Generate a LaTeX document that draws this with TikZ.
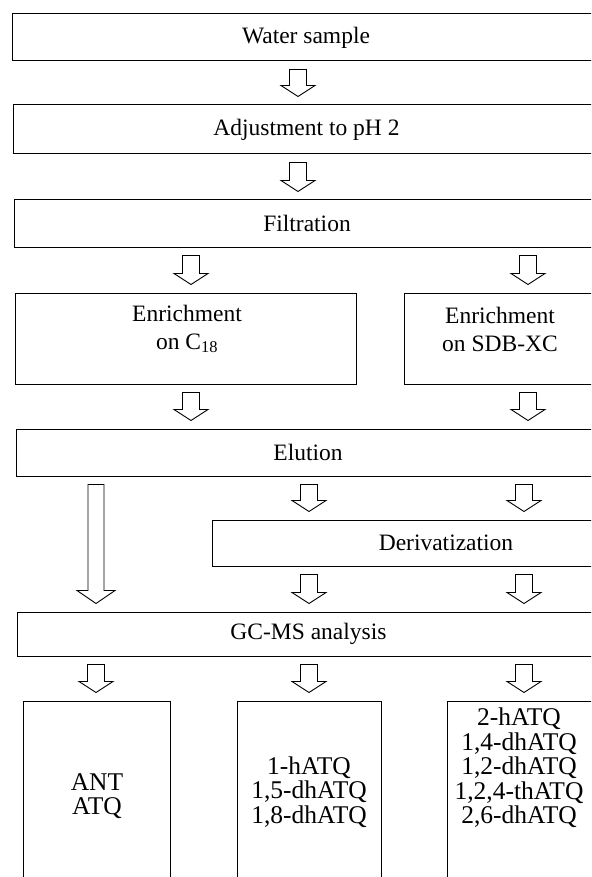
\documentclass[tikz,border=0pt]{standalone}
\usepackage{fontspec}
\setmainfont{Liberation Serif}
\usetikzlibrary{calc}
\tikzset{
  box/.style={draw, line width=1pt, inner sep=0pt, font=\fontsize{23.5}{28}\selectfont},
  txt/.style={inner sep=0pt, align=center, font=\fontsize{23.5}{28}\selectfont},
  restxt/.style={inner sep=0pt, align=center, font=\fontsize{25.5}{24.5}\selectfont},
  hollow/.style={draw, line width=0.9pt, to path={let \p1=(\tikztostart), \p2=(\tikztotarget) in
    (\x1-8.5pt,\y1-8pt) -- (\x1-8.5pt,\y2+19pt) -- (\x1-17pt,\y2+19pt) -- (\x1,\y2+8pt)
    -- (\x1+17pt,\y2+19pt) -- (\x1+8.5pt,\y2+19pt) -- (\x1+8.5pt,\y1-8pt) -- cycle}},
  longhollow/.style={draw, line width=0.9pt, to path={let \p1=(\tikztostart), \p2=(\tikztotarget) in
    (\x1-8pt,\y1-8pt) -- (\x1-8pt,\y2+21pt) -- (\x1-19pt,\y2+21pt) -- (\x1,\y2+8pt)
    -- (\x1+19pt,\y2+21pt) -- (\x1+8pt,\y2+21pt) -- (\x1+8pt,\y1-8pt) -- cycle}}
}
\begin{document}
\begin{tikzpicture}[x=1pt,y=-1pt]
\clip (0,0) rectangle (591,877);
\fill[white] (0,0) rectangle (591,877);
% columns
\coordinate (colM) at (298,0);
\coordinate (colL) at (191,0);
\coordinate (colR) at (528,0);
\coordinate (colA) at (96,0);
\coordinate (colB) at (309,0);
\coordinate (colC) at (524,0);
% boxes
\node[box, minimum width=588pt, minimum height=47pt] (water) at (306,37.5) {Water sample};
\node[box, minimum width=587pt, minimum height=49pt] (adjust) at (306.5,129.5) {Adjustment to pH 2};
\node[box, minimum width=586pt, minimum height=47pt] (filt) at (307,223.5) {Filtration};
\node[box, minimum width=341pt, minimum height=91pt] (c18) at (185.5,338.5) {};
\node[txt] (c18t) at (187,329) {Enrichment\\on C\textsubscript{18}};
\node[box, minimum width=196pt, minimum height=91pt] (sdb) at (502,338.5) {};
\node[txt] (sdbt) at (500,329) {Enrichment\\on SDB-XC};
\node[box, minimum width=584pt, minimum height=47pt] (elu) at (308,452.5) {Elution};
\node[box, minimum width=468pt, minimum height=46pt] (der) at (446,543) {Derivatization};
\node[box, minimum width=583pt, minimum height=44pt] (gcms) at (308.5,634) {GC-MS analysis};
\node[box, minimum width=147pt, minimum height=181pt] (resA) at (96.5,791.5) {};
\node[box, minimum width=144pt, minimum height=181pt] (resB) at (309,791.5) {};
\node[box, minimum width=153pt, minimum height=181pt] (resC) at (523.5,791.5) {};
\node[restxt] (resAt) at (97,796) {ANT\\ATQ};
\node[restxt] (resBt) at (309,792) {1-hATQ\\1,5-dhATQ\\1,8-dhATQ};
\node[restxt] (resCt) at (519,768) {2-hATQ\\1,4-dhATQ\\1,2-dhATQ\\1,2,4-thATQ\\2,6-dhATQ};
% arrows
\draw[hollow] (water.south -| colM) to (adjust.north -| colM);
\draw[hollow] (adjust.south -| colM) to (filt.north -| colM);
\draw[hollow] (filt.south -| colL) to (c18.north -| colL);
\draw[hollow] (filt.south -| colR) to (sdb.north -| colR);
\draw[hollow] (c18.south -| colL) to (elu.north -| colL);
\draw[hollow] (sdb.south -| colR) to (elu.north -| colR);
\draw[longhollow] (elu.south -| colA) to (gcms.north -| colA);
\draw[hollow] (elu.south -| colB) to (der.north -| colB);
\draw[hollow] (elu.south -| colC) to (der.north -| colC);
\draw[hollow] (der.south -| colB) to (gcms.north -| colB);
\draw[hollow] (der.south -| colC) to (gcms.north -| colC);
\draw[hollow] (gcms.south -| colA) to (resA.north -| colA);
\draw[hollow] (gcms.south -| colB) to (resB.north -| colB);
\draw[hollow] (gcms.south -| colC) to (resC.north -| colC);
\end{tikzpicture}
\end{document}
